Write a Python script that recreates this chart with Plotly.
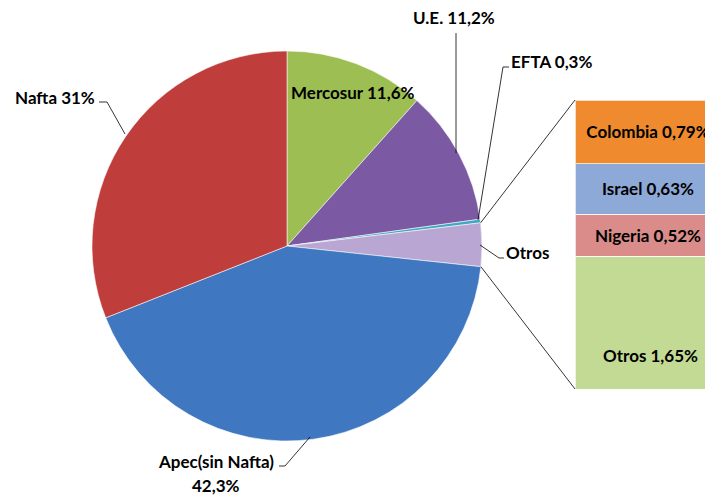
import math
import plotly.graph_objects as go

# la página pone la figura con un margen de 8px
OFF = 8
W, H = 713, 495 - OFF

# datos del gráfico de torta
pie_labels = ["Mercosur", "U.E.", "EFTA", "Otros", "Apec(sin Nafta)", "Nafta"]
pie_values = [11.6, 11.2, 0.3, 3.59, 42.3, 31.0]
pie_colors = ["#9DBE52", "#7B5AA3", "#3FA7C1", "#B9A6D3", "#3F77C0", "#BF3D3B"]

# desglose de "Otros" (barra apilada, de abajo hacia arriba)
bar_labels = ["Otros", "Nigeria", "Israel", "Colombia"]
bar_values = [1.65, 0.52, 0.63, 0.79]
bar_colors = ["#C2DA93", "#D98C89", "#8DA9D8", "#EF8A2E"]

FONT = dict(family="Lato", size=17, color="black")


def px(x, y):
    # pixel de pantalla -> coordenadas paper
    return (x - OFF) / W, 1 - (y - OFF) / H


# geometría de la torta (en pixeles)
cx, cy, r = 287, 246, 195
(dx0, dy0), (dx1, dy1) = px(cx - r, cy + r), px(cx + r, cy - r)

# geometría de la barra
bx0, by_top, by_bot = 575, 100, 389
bar_x0, bar_y1 = px(bx0, by_top)
_, bar_y0 = px(bx0, by_bot)

fig = go.Figure()

fig.add_trace(go.Pie(
    labels=pie_labels, values=pie_values,
    marker=dict(colors=pie_colors, line=dict(color="rgba(255,255,255,0.55)", width=1)),
    sort=False, direction="clockwise", rotation=0,
    textinfo="none", showlegend=False, hoverinfo="label+value",
    domain=dict(x=[dx0, dx1], y=[dy0, dy1]),
))

for lab, val, col in zip(bar_labels, bar_values, bar_colors):
    txt = "<b>%s %s%%</b>" % (lab, ("%.2f" % val).replace(".", ","))
    fig.add_trace(go.Bar(
        x=[0.5], y=[val], width=1, xaxis="x2", yaxis="y2",
        marker=dict(color=col, line=dict(color="rgba(255,255,255,0.7)", width=1)),
        text=[txt] if lab != "Otros" else None,
        textposition="inside", insidetextanchor="middle",
        textfont=FONT, cliponaxis=False,
        showlegend=False, name=lab,
    ))

# etiqueta de "Otros" en la barra (parte baja del segmento)
fig.add_annotation(
    x=0.52, y=bar_values[0] * 0.25, xref="x2", yref="y2",
    text="<b>Otros %s%%</b>" % ("%.2f" % bar_values[0]).replace(".", ","),
    showarrow=False, font=FONT,
)

fig.update_layout(
    width=W, height=H, margin=dict(l=0, r=0, t=0, b=0),
    paper_bgcolor="white", plot_bgcolor="rgba(0,0,0,0)",
    barmode="stack",
    xaxis2=dict(domain=[bar_x0, 1], range=[0, 1], visible=False, anchor="y2"),
    yaxis2=dict(domain=[bar_y0, bar_y1], range=[0, sum(bar_values)], visible=False, anchor="x2"),
)

# líneas de conexión torta -> barra (bordes del sector "Otros")
tot = sum(pie_values)
a_start = sum(pie_values[:3]) / tot * 2 * math.pi
a_end = sum(pie_values[:4]) / tot * 2 * math.pi


def edge(a):
    return cx + r * math.sin(a), cy - r * math.cos(a)


line_style = dict(color="black", width=0.8)
for a, by in [(a_start, by_top), (a_end, by_bot)]:
    ex, ey = edge(a)
    p0, p1 = px(ex, ey), px(bx0, by)
    fig.add_shape(type="line", xref="paper", yref="paper",
                  x0=p0[0], y0=p0[1], x1=p1[0], y1=p1[1], line=line_style)


def leader(points):
    pts = [px(x, y) for x, y in points]
    path = "M %f %f " % pts[0] + " ".join("L %f %f" % p for p in pts[1:])
    fig.add_shape(type="path", xref="paper", yref="paper", path=path, line=line_style)


leader([(456, 33), (456, 153)])                  # U.E.
leader([(509, 67), (503, 67), (478, 220)])        # EFTA
leader([(480, 245), (499, 258), (504, 258)])      # Otros
leader([(99, 102), (107, 102), (125, 134)])       # Nafta
leader([(279, 466), (285, 466), (310, 437)])      # Apec


def label(x, y, text, anchor="center"):
    lx, ly = px(x, y)
    fig.add_annotation(x=lx, y=ly, xref="paper", yref="paper", text=text,
                       showarrow=False, xanchor=anchor, yanchor="middle", font=FONT)


label(289, 93, "<b>Mercosur 11,6%</b>", "left")
label(454, 18, "<b>U.E. 11,2%</b>")
label(509, 62, "<b>EFTA 0,3%</b>", "left")
label(504, 252, "<b>Otros</b>", "left")
label(97, 98, "<b>Nafta 31%</b>", "right")
label(216, 461, "<b>Apec(sin Nafta)</b>")
label(216, 485, "<b>42,3%</b>")

fig.write_html("out.html")
